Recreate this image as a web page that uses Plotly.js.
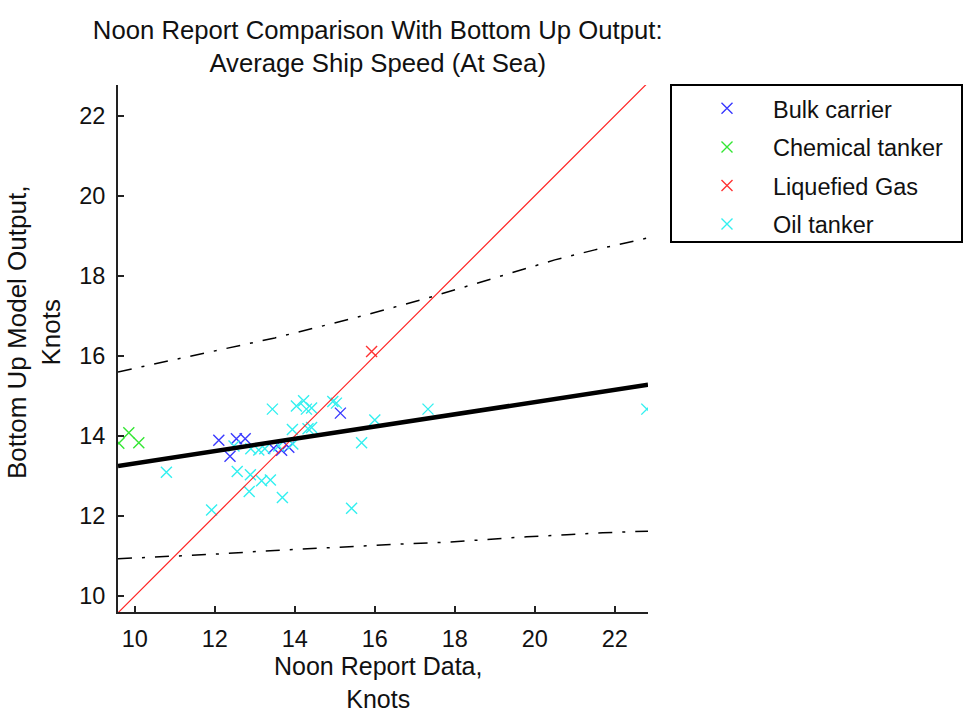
<!DOCTYPE html>
<html>
<head>
<meta charset="utf-8">
<script src="https://cdn.plot.ly/plotly-3.0.1.min.js"></script>
<style>html,body{margin:0;padding:0;background:#fff;}#chart{width:964px;height:716px;}</style>
</head>
<body>
<div id="chart"></div>
<script>
// ---- data ----
const bulkX = [12.10, 12.38, 12.54, 12.76, 13.47, 13.67, 13.85, 15.14];
const bulkY = [13.89, 13.49, 13.93, 13.93, 13.69, 13.64, 13.72, 14.57];

const chemX = [9.60, 9.85, 10.10];
const chemY = [13.82, 14.08, 13.83];

const gasX = [15.92];
const gasY = [16.11];

const oilX = [10.79, 11.92, 12.56, 12.89, 12.86, 13.17, 13.39, 13.69, 13.44, 14.04, 14.22, 14.29, 14.42,
              14.95, 15.04, 13.94, 14.33, 14.42, 16.00, 15.67, 15.42, 17.33, 22.80,
              12.48, 12.90, 13.10, 13.25, 13.60, 13.95];
const oilY = [13.09, 12.15, 13.11, 13.03, 12.61, 12.88, 12.90, 12.46, 14.67, 14.75, 14.88, 14.67, 14.70,
              14.86, 14.82, 14.16, 14.18, 14.21, 14.40, 13.83, 12.19, 14.67, 14.67,
              13.75, 13.68, 13.65, 13.68, 13.75, 13.80];

// y = x reference line
const idLineX = [9.58, 22.80];
const idLineY = [9.58, 22.80];

// fitted line
const fitX = [9.58, 22.83];
const fitY = [13.25, 15.28];

// upper / lower bounds (dash-dot)
const upX = [9.58, 10.5, 11.5, 12.5, 13.5, 14.5, 15.5, 16.5, 17.5, 18.5, 19.5, 20.5, 21.5, 22.83];
const upY = [15.60, 15.80, 16.00, 16.22, 16.45, 16.70, 16.95, 17.22, 17.50, 17.80, 18.10, 18.40, 18.65, 18.95];
const loX = [9.58, 10.7, 12.1, 13.5, 14.7, 15.9, 16.9, 17.9, 18.85, 19.8, 20.8, 21.7, 22.83];
const loY = [10.93, 10.98, 11.05, 11.14, 11.20, 11.27, 11.31, 11.35, 11.42, 11.48, 11.53, 11.58, 11.62];

const tickVals = [10, 12, 14, 16, 18, 20, 22];
const tickText = ['10', '12', '14', '16', '18', '20', '22'];

const FONT = 'Liberation Sans, Arial, Helvetica, sans-serif';

function sc(name, x, y, color) {
  return {
    type: 'scatter', mode: 'markers', name: name, x: x, y: y, legendgroup: name,
    marker: {symbol: 'x-thin-open', size: 11, color: color, line: {width: 1.4, color: color}},
    hoverinfo: 'x+y'
  };
}

const traces = [
  sc('Bulk carrier', bulkX, bulkY, '#3a3aff'),
  sc('Chemical tanker', chemX, chemY, '#33e633'),
  sc('Liquefied Gas', gasX, gasY, '#ff3333'),
  sc('Oil tanker', oilX, oilY, '#33f0f0'),
  {type: 'scatter', mode: 'lines', x: idLineX, y: idLineY, showlegend: false,
   line: {color: '#ff2020', width: 1.2}},
  {type: 'scatter', mode: 'lines', x: fitX, y: fitY, showlegend: false,
   line: {color: '#000', width: 4.5}},
  {type: 'scatter', mode: 'lines', x: upX, y: upY, showlegend: false,
   line: {color: '#000', width: 1.5, dash: '14px,10px,3px,10px'}},
  {type: 'scatter', mode: 'lines', x: loX, y: loY, showlegend: false,
   line: {color: '#000', width: 1.5, dash: '14px,10px,3px,10px'}}
];

const axisCommon = {
  showgrid: false, zeroline: false, showline: true, linecolor: '#222', linewidth: 2,
  ticks: 'inside', ticklen: 6, tickwidth: 1.5, tickcolor: '#222', mirror: false,
  tickvals: tickVals, ticktext: tickText, tickfont: {family: FONT, size: 23.5, color: '#111'}
};

const layout = {
  width: 964, height: 716,
  margin: {l: 118, r: 316, t: 85, b: 104, pad: 0},
  paper_bgcolor: '#fff', plot_bgcolor: '#fff',
  font: {family: FONT, color: '#111'},
  title: {
    text: 'Noon Report Comparison With Bottom Up Output:<br>Average Ship Speed (At Sea)',
    font: {family: FONT, size: 25.7, color: '#111'},
    xref: 'paper', x: 0.49, xanchor: 'center',
    yref: 'container', y: 1 - 38.5 / 716, yanchor: 'middle'
  },
  xaxis: Object.assign({}, axisCommon, {range: [9.58, 22.83], ticklabelstandoff: 5}),
  yaxis: Object.assign({}, axisCommon, {range: [9.6, 22.77], ticklabelstandoff: 6}),
  showlegend: true,
  legend: {
    x: (681 - 118) / 530, xanchor: 'left',
    y: 0.997, yanchor: 'top',
    bgcolor: 'rgba(0,0,0,0)', borderwidth: 0,
    font: {family: FONT, size: 23.5, color: '#111'},
    itemwidth: 82, tracegroupgap: 5, traceorder: 'grouped'
  },
  shapes: [{
    type: 'rect', xref: 'paper', yref: 'paper',
    x0: (671 - 118) / 530, x1: (962 - 118) / 530,
    y0: (612 - 242) / 527, y1: 1.0,
    line: {color: '#000', width: 2}, fillcolor: 'rgba(0,0,0,0)'
  }],
  annotations: [
    {text: 'Noon Report Data,<br>Knots', xref: 'paper', yref: 'paper',
     x: 0.49, y: (612 - 682) / 527, xanchor: 'center', yanchor: 'middle', showarrow: false,
     font: {family: FONT, size: 25, color: '#111'}},
    {text: 'Bottom Up Model Output,<br>Knots', xref: 'paper', yref: 'paper',
     x: (34 - 118) / 530, y: (612 - 333) / 527, xanchor: 'center', yanchor: 'middle',
     textangle: -90, showarrow: false,
     font: {family: FONT, size: 26, color: '#111'}}
  ]
};

Plotly.newPlot('chart', traces, layout, {displayModeBar: false, staticPlot: true});
</script>
</body>
</html>
